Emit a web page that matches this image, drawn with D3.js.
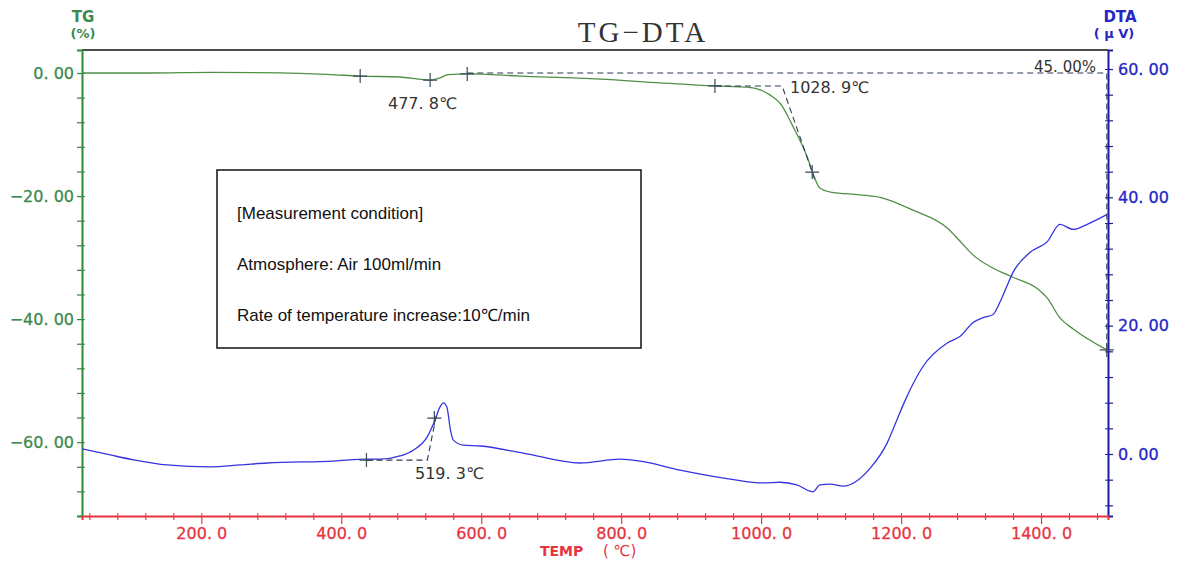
<!DOCTYPE html>
<html>
<head>
<meta charset="utf-8">
<script src="https://cdn.jsdelivr.net/npm/d3@7"></script>
<style>
  body { margin: 0; background: #fff; }
  svg { display: block; }
</style>
</head>
<body>
<script>
// Chart size
let w = 1177;
let h = 563;

// TG curve: temperature (deg C) and weight change (%)
let tgTemp = [30, 127, 213, 313, 384, 427, 484, 510, 527, 541, 553, 580, 656, 770, 856, 934, 980,
    999, 1013, 1027, 1046, 1066, 1074, 1084, 1099, 1141, 1170, 1217, 1266, 1284, 1303,
    1331, 1360, 1394, 1409, 1427, 1446, 1494];
let tgValue = [0, 0, 0.1, 0.03, -0.25, -0.5, -0.65, -1.0, -1.15, -0.8, -0.25, -0.15, -0.5, -1.0,
    -1.6, -2.1, -2.3, -2.75, -3.6, -4.9, -8.8, -13.7, -16.3, -18.7, -19.35, -19.8, -20.2,
    -22.3, -25.2, -27.3, -29.6, -31.7, -33.2, -35.0, -36.6, -39.8, -41.6, -45.0];

// DTA curve: temperature (deg C) and signal (uV)
let dtaTemp = [30, 70, 103, 151, 213, 256, 294, 389, 437, 456, 484, 503, 523, 534, 541, 546, 551,
    556, 560, 574, 599, 660, 741, 799, 827, 884, 956, 1003, 1027, 1051, 1070, 1074, 1084, 1099,
    1117, 1156, 1180, 1194, 1206, 1231, 1266, 1284, 1303, 1317, 1331, 1341, 1351, 1360, 1384,
    1409, 1427, 1446, 1466, 1494];
let dtaValue = [0.8, -0.15, -0.9, -1.7, -2.0, -1.7, -1.4, -1.1, -0.8, -0.8, -0.3, 0.6, 2.7, 5.3,
    7.3, 7.97, 7.3, 3.75, 2.2, 1.4, 1.25, 0.15, -1.4, -0.8, -1.1, -2.5, -3.9, -4.5, -4.4, -4.8,
    -5.8, -5.9, -4.8, -4.7, -5.0, -2.2, 1.7, 5.3, 8.4, 13.6, 17.3, 18.3, 20.5, 21.25, 21.7, 23.6,
    26.1, 28.3, 31.4, 33.1, 35.8, 35.0, 35.8, 37.3];

// Tick labels
let tempTicks = [200, 400, 600, 800, 1000, 1200, 1400];
let tgTicks = [0, -20, -40, -60];
let dtaTicks = [0, 20, 40, 60];

// Analysis marks
let tgMarkTemp = [427, 527, 580, 934, 1073, 1494];
let tgMarkValue = [-0.5, -1.15, -0.15, -2.1, -16.1, -45.0];
let dtaMarkTemp = [436, 533];
let dtaMarkValue = [-0.95, 5.6];

let conditionLines = ["[Measurement condition]", "Atmosphere: Air 100ml/min",
    "Rate of temperature increase:10\u2103/min"];

let green = "#2e8b3a";
let blue = "#2626c8";
let red = "#e8343f";
let markColor = "#3b4a5c";

let svg = d3.select("body")
    .append("svg")
    .attr("width", w)
    .attr("height", h);

let x = d3.scaleLinear().domain([29.5, 1495.7]).range([82, 1108]);
let yTG = d3.scaleLinear().domain([-72.0, 3.74]).range([516, 50]);
let yDTA = d3.scaleLinear().domain([-9.66, 62.96]).range([516, 50]);

// format like "0. 00"
function fmt(n, d) {
    return d3.format("." + d + "f")(n).replace(".", ". ");
}

// Title
svg.append("text")
    .attr("x", 643).attr("y", 42)
    .attr("text-anchor", "middle")
    .style("font-family", "'Liberation Serif', serif")
    .style("font-size", "29px")
    .style("letter-spacing", "3px")
    .attr("fill", "#333")
    .text("TG\u2212DTA");

// top border
svg.append("line")
    .attr("x1", 82).attr("x2", 1108)
    .attr("y1", 50).attr("y2", 50)
    .attr("stroke", "#111").attr("stroke-width", 1.5);

// axis helper: minor ticks both sides + major labels
function styleAxis(g, color) {
    g.select(".domain").attr("stroke", color).attr("stroke-width", 2);
    g.selectAll(".tick line").attr("stroke", color).attr("stroke-width", 1.2);
    g.selectAll(".tick text")
        .attr("fill", color)
        .style("font-family", "'DejaVu Sans', sans-serif")
        .style("font-size", "16px")
        .attr("stroke-width", 0.3);
}

// Left TG axis
let tgMinor = d3.range(-72, 1, 4);
let gL = svg.append("g").attr("transform", "translate(82,0)")
    .call(d3.axisLeft(yTG).tickValues(tgMinor).tickSize(5).tickFormat(d => tgTicks.includes(d) ? fmt(d, 2) : ""));
styleAxis(gL, green);
gL.selectAll(".tick text").attr("x", -8).attr("fill", "#3d8a4e").attr("stroke", "#3d8a4e");
svg.append("g").attr("transform", "translate(82,0)")
    .call(d3.axisRight(yTG).tickValues(tgMinor).tickSize(3).tickFormat(""))
    .call(g => { g.select(".domain").remove(); g.selectAll(".tick line").attr("stroke", green); });

// Right DTA axis
let dtaMinor = d3.range(-8, 61, 4);
let gR = svg.append("g").attr("transform", "translate(1108,0)")
    .call(d3.axisRight(yDTA).tickValues(dtaMinor).tickSize(5).tickFormat(d => dtaTicks.includes(d) ? fmt(d, 2) : ""));
styleAxis(gR, "#1c1c9c");
gR.selectAll(".tick text").attr("x", 10).attr("fill", blue).attr("stroke", blue);
svg.append("g").attr("transform", "translate(1108,0)")
    .call(d3.axisLeft(yDTA).tickValues(dtaMinor).tickSize(3).tickFormat(""))
    .call(g => { g.select(".domain").remove(); g.selectAll(".tick line").attr("stroke", "#1c1c9c"); });

// Bottom temperature axis
let tempMinor = d3.range(40, 1481, 40);
let gB = svg.append("g").attr("transform", "translate(0,516)")
    .call(d3.axisBottom(x).tickValues(tempMinor).tickSize(4).tickFormat(d => tempTicks.includes(d) ? fmt(d, 1) : ""));
styleAxis(gB, red);
gB.selectAll(".tick line").attr("y2", d => tempTicks.includes(d) ? 8 : 4);
gB.selectAll(".tick text").attr("y", 12).attr("stroke", red);
svg.append("g").attr("transform", "translate(0,516)")
    .call(d3.axisTop(x).tickValues(tempMinor).tickSize(3).tickFormat(""))
    .call(g => { g.select(".domain").remove(); g.selectAll(".tick line").attr("stroke", red); });

// Axis titles
svg.append("text").attr("x", 83).attr("y", 22).attr("text-anchor", "middle")
    .style("font-family", "'DejaVu Sans', sans-serif").style("font-size", "15px").style("font-weight", "bold")
    .attr("fill", "#3d8a4e").text("TG");
svg.append("text").attr("x", 83).attr("y", 38).attr("text-anchor", "middle")
    .style("font-family", "'DejaVu Sans', sans-serif").style("font-size", "13px").style("font-weight", "bold")
    .attr("fill", "#3d8a4e").text("(%)");
svg.append("text").attr("x", 1120).attr("y", 22).attr("text-anchor", "middle")
    .style("font-family", "'DejaVu Sans', sans-serif").style("font-size", "15px").style("font-weight", "bold")
    .attr("fill", blue).text("DTA");
svg.append("text").attr("x", 1114).attr("y", 38).attr("text-anchor", "middle")
    .style("font-family", "'DejaVu Sans', sans-serif").style("font-size", "13px").style("font-weight", "bold")
    .attr("fill", blue).text("( \u03BC V)");
svg.append("text").attr("x", 540).attr("y", 556)
    .style("font-family", "'DejaVu Sans', sans-serif").style("font-size", "14px").style("font-weight", "bold")
    .attr("fill", red).text("TEMP");
svg.append("text").attr("x", 603).attr("y", 556)
    .style("font-family", "'DejaVu Sans', sans-serif").style("font-size", "15px")
    .attr("fill", red).text("( \u2103)");

// Curves
let tgLine = d3.line().x(d => x(d[0])).y(d => yTG(d[1])).curve(d3.curveMonotoneX);
let dtaLine = d3.line().x(d => x(d[0])).y(d => yDTA(d[1])).curve(d3.curveMonotoneX);

svg.append("path")
    .datum(d3.zip(tgTemp, tgValue))
    .attr("d", tgLine)
    .attr("fill", "none")
    .attr("stroke", "#4f8f45")
    .attr("stroke-width", 1.3);

svg.append("path")
    .datum(d3.zip(dtaTemp, dtaValue))
    .attr("d", dtaLine)
    .attr("fill", "none")
    .attr("stroke", "#3434e0")
    .attr("stroke-width", 1.3);

// Dashed analysis lines
let dashed = [
    [[x(580), yTG(0)], [x(1494), yTG(0)], [x(1494), yTG(-45)]],
    [[x(934), yTG(-2.1)], [x(1030), yTG(-2.1)], [x(1077), yTG(-17.4)]],
    [[x(436), yDTA(-0.95)], [x(523), yDTA(-0.95)], [x(536), yDTA(6.1)]]
];
svg.selectAll("path.dash")
    .data(dashed)
    .enter()
    .append("path")
    .attr("class", "dash")
    .attr("d", d => d3.line()(d))
    .attr("fill", "none")
    .attr("stroke", "#2d3a55")
    .attr("stroke-width", 1.1)
    .attr("stroke-dasharray", "6,4");

// Cross marks
let marks = d3.zip(tgMarkTemp, tgMarkValue).map(d => [x(d[0]), yTG(d[1])])
    .concat(d3.zip(dtaMarkTemp, dtaMarkValue).map(d => [x(d[0]), yDTA(d[1])]));
svg.selectAll("path.mark")
    .data(marks)
    .enter()
    .append("path")
    .attr("class", "mark")
    .attr("d", d => "M" + (d[0] - 7) + "," + d[1] + "H" + (d[0] + 7) + "M" + d[0] + "," + (d[1] - 7) + "V" + (d[1] + 7))
    .attr("stroke", markColor)
    .attr("stroke-width", 1.2);

// Annotation labels
let notes = [
    { t: "477. 8\u2103", px: 388, py: 109, anchor: "start", fs: 16 },
    { t: "1028. 9\u2103", px: 790, py: 93, anchor: "start", fs: 16 },
    { t: "519. 3\u2103", px: 415, py: 479, anchor: "start", fs: 16 },
    { t: "45. 00%", px: 1096, py: 72, anchor: "end", fs: 15 }
];
svg.selectAll("text.note")
    .data(notes)
    .enter()
    .append("text")
    .attr("class", "note")
    .attr("x", d => d.px)
    .attr("y", d => d.py)
    .attr("text-anchor", d => d.anchor)
    .style("font-family", "'DejaVu Sans', sans-serif")
    .style("font-size", d => d.fs + "px")
    .attr("fill", "#333")
    .text(d => d.t);

// Measurement condition box
svg.append("rect")
    .attr("x", 217).attr("y", 170)
    .attr("width", 424).attr("height", 178)
    .attr("fill", "#fff")
    .attr("stroke", "#111")
    .attr("stroke-width", 1.5);
svg.selectAll("text.cond")
    .data(conditionLines)
    .enter()
    .append("text")
    .attr("class", "cond")
    .attr("x", 237)
    .attr("y", (d, i) => 219 + i * 51)
    .style("font-family", "'Liberation Sans', Arial, sans-serif")
    .style("font-size", "17px")
    .attr("fill", "#111")
    .text(d => d);
</script>
</body>
</html>
